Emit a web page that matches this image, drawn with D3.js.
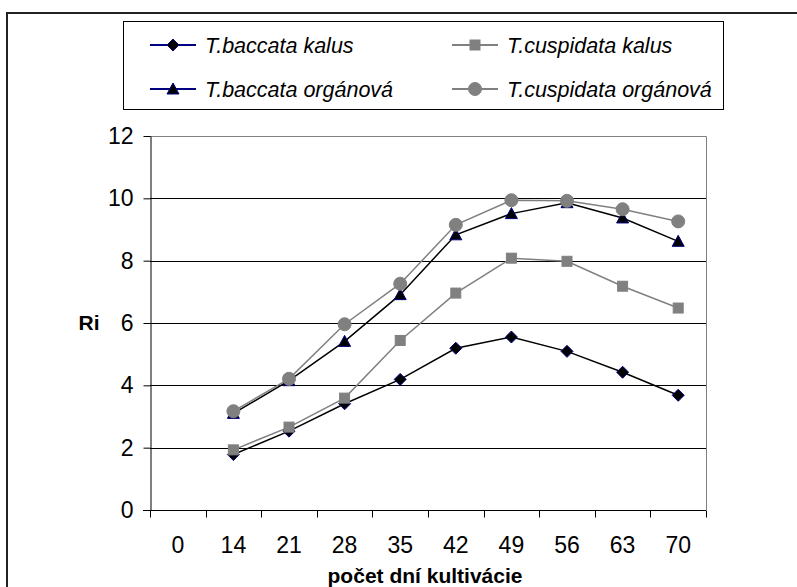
<!DOCTYPE html>
<html>
<head>
<meta charset="utf-8">
<script src="https://cdn.jsdelivr.net/npm/d3@7"></script>
<style>
  body { margin: 0; background: #fff; }
  svg { display: block; font-family: "Liberation Sans", Arial, sans-serif; }
</style>
</head>
<body>
<div id="chart"></div>
<script>
(function() {

    var width = 797,
    height = 587;

    // days of cultivation (category axis)
    var days = ["0", "14", "21", "28", "35", "42", "49", "56", "63", "70"];
    var yTicks = [0, 2, 4, 6, 8, 10, 12];

    // Ri values, one per day from 14 to 70 (day 0 has none)
    var baccataKalus = [1.78, 2.53, 3.41, 4.19, 5.19, 5.55, 5.09, 4.42, 3.68];
    var cuspidataKalus = [1.93, 2.66, 3.59, 5.44, 6.96, 8.08, 7.98, 7.18, 6.48];
    var baccataOrganova = [3.1, 4.15, 5.41, 6.91, 8.83, 9.51, 9.86, 9.37, 8.62];
    var cuspidataOrganova = [3.17, 4.21, 5.96, 7.26, 9.15, 9.94, 9.92, 9.65, 9.26];

    var seriesNames = ["T.baccata kalus", "T.cuspidata kalus", "T.baccata orgánová", "T.cuspidata orgánová"];

    var navy = "#000080", grey = "#808080";

    var series = [
        {name: seriesNames[0], values: baccataKalus, line: "#000", legendLine: navy, shape: "diamond", fill: "#000", stroke: navy},
        {name: seriesNames[1], values: cuspidataKalus, line: grey, legendLine: grey, shape: "square", fill: grey, stroke: grey},
        {name: seriesNames[2], values: baccataOrganova, line: "#000", legendLine: navy, shape: "triangle", fill: "#000", stroke: navy},
        {name: seriesNames[3], values: cuspidataOrganova, line: grey, legendLine: grey, shape: "circle", fill: grey, stroke: grey}
    ];

    var svg = d3.select("#chart")
    .append("svg")
    .attr("width", width)
    .attr("height", height)

    // outer frame (runs off the right and bottom edge)
    svg.append("rect")
    .attr("x", 7).attr("y", 13)
    .attr("width", 820).attr("height", 600)
    .attr("fill", "none")
    .attr("stroke", "#222")
    .attr("stroke-width", 2)

    var x = d3.scaleBand().domain(days).range([150, 706])
    var y = d3.scaleLinear().domain([0, 12]).range([510, 136])

    // gridlines
    svg.selectAll(".grid")
    .data(yTicks.filter(function(d){ return d > 0 && d < 12 }))
    .enter().append("line")
    .attr("x1", 150).attr("x2", 706)
    .attr("y1", function(d){ return Math.round(y(d)) + 0.5 })
    .attr("y2", function(d){ return Math.round(y(d)) + 0.5 })
    .attr("stroke", "#000")

    // plot area border top / right
    svg.append("path")
    .attr("d", "M150," + (Math.round(y(12)) + 0.5) + "H706.5V510")
    .attr("fill", "none")
    .attr("stroke", grey)

    // y axis
    var yAxis = svg.append("g")
    .attr("transform", "translate(150.5,0)")
    .call(d3.axisLeft(y).tickValues(yTicks).tickSize(7).tickPadding(10).tickSizeOuter(0))
    yAxis.select(".domain").attr("stroke", "#000")
    yAxis.selectAll("text").attr("font-size", 23).attr("fill", "#000")
        .attr("font-family", null)

    // x axis, ticks on band edges
    var xAxisG = svg.append("g")
    .attr("transform", "translate(0," + 510.5 + ")")
    xAxisG.append("line")
    .attr("x1", 143).attr("x2", 706).attr("stroke", "#000")
    var edges = days.map(function(d){ return x(d) }).concat([x.range()[1]])
    xAxisG.selectAll(".tk")
    .data(edges)
    .enter().append("line")
    .attr("x1", function(d){ return Math.round(d) + 0.5 })
    .attr("x2", function(d){ return Math.round(d) + 0.5 })
    .attr("y1", 0).attr("y2", 7)
    .attr("stroke", "#000")
    xAxisG.selectAll(".lbl")
    .data(days)
    .enter().append("text")
    .attr("x", function(d){ return x(d) + x.bandwidth() / 2 })
    .attr("y", 42)
    .attr("text-anchor", "middle")
    .attr("font-size", 23)
    .text(function(d){ return d })

    // axis titles
    svg.append("text")
    .attr("x", 89).attr("y", 330)
    .attr("text-anchor", "middle")
    .attr("font-size", 21).attr("font-weight", "bold")
    .text("Ri")

    svg.append("text")
    .attr("x", 425).attr("y", 583)
    .attr("text-anchor", "middle")
    .attr("font-size", 21).attr("font-weight", "bold")
    .text("počet dní kultivácie")

    function marker(g, s, cx, cy) {
        var el;
        if (s.shape === "diamond") {
            el = g.append("path").attr("d", "M0,-6L6,0L0,6L-6,0Z")
        } else if (s.shape === "square") {
            el = g.append("rect").attr("x", -5).attr("y", -5).attr("width", 10).attr("height", 10)
        } else if (s.shape === "triangle") {
            el = g.append("path").attr("d", "M0,-6L6,5L-6,5Z")
        } else {
            el = g.append("circle").attr("r", 6.5)
        }
        el.attr("transform", "translate(" + cx + "," + cy + ")")
        .attr("fill", s.fill)
        .attr("stroke", s.stroke)
        .attr("stroke-width", 1)
    }

    var line = d3.line()
    .x(function(d){ return x(d.day) + x.bandwidth() / 2 })
    .y(function(d){ return y(d.v) })

    series.forEach(function(s){
        var pts = s.values.map(function(v, i){ return {day: days[i + 1], v: v} })
        svg.append("path")
        .datum(pts)
        .attr("d", line)
        .attr("fill", "none")
        .attr("stroke", s.line)
        .attr("stroke-width", 1.5)
        var g = svg.append("g")
        pts.forEach(function(p){
            marker(g, s, x(p.day) + x.bandwidth() / 2, y(p.v))
        })
    })

    // legend
    svg.append("rect")
    .attr("x", 123.5).attr("y", 21.5)
    .attr("width", 600).attr("height", 88)
    .attr("fill", "#fff")
    .attr("stroke", "#000")

    var legendPos = [[150, 45], [452, 45], [150, 89], [452, 89]]
    series.forEach(function(s, i){
        var lx = legendPos[i][0], ly = legendPos[i][1]
        var g = svg.append("g")
        g.append("line")
        .attr("x1", lx).attr("x2", lx + 46)
        .attr("y1", ly).attr("y2", ly)
        .attr("stroke", s.legendLine)
        .attr("stroke-width", 2)
        marker(g, s, lx + 23, ly)
        g.append("text")
        .attr("x", lx + 55).attr("y", ly + 8)
        .attr("font-size", 21.5)
        .attr("font-style", "italic")
        .text(s.name)
    })

})();
</script>
</body>
</html>
